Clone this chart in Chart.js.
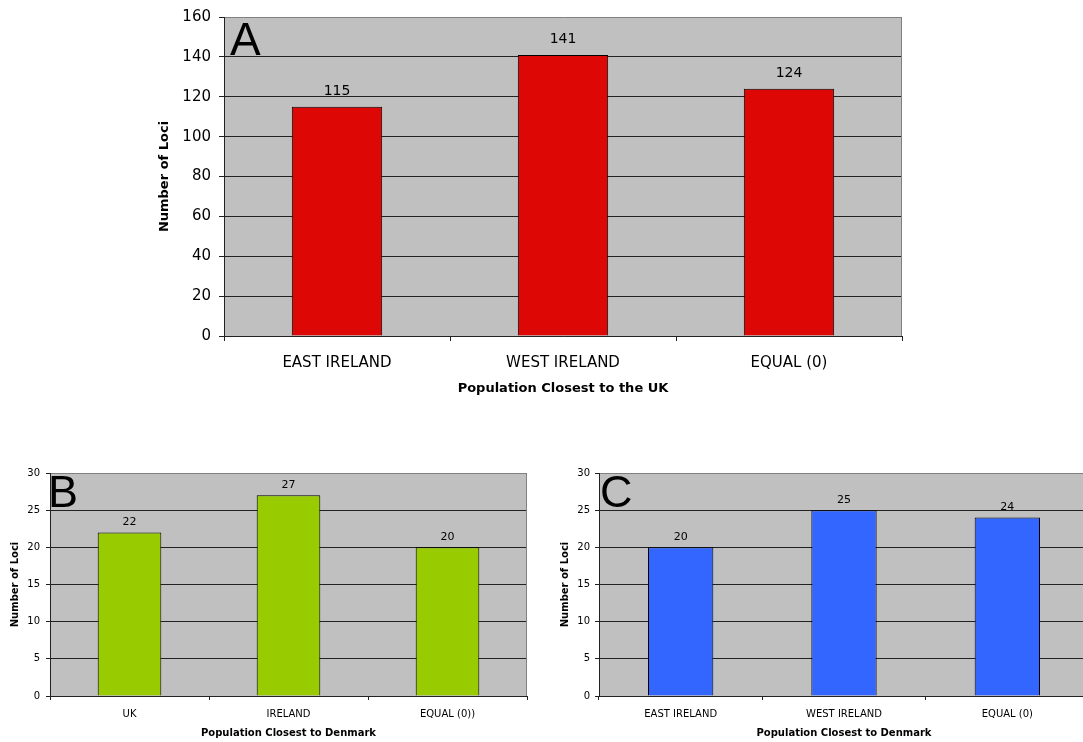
<!DOCTYPE html>
<html>
<head>
<meta charset="utf-8">
<script src="https://cdn.jsdelivr.net/npm/chart.js@4.4.1/dist/chart.umd.min.js"></script>
<style>
  html, body { margin: 0; padding: 0; background: #fff; overflow: hidden; width: 1083px; height: 742px; }
  canvas { position: absolute; }
</style>
</head>
<body>
<canvas id="chartA" width="1083" height="400" style="left:0px;top:0px"></canvas>
<canvas id="chartB" width="560" height="312" style="left:0px;top:430px"></canvas>
<canvas id="chartC" width="550" height="312" style="left:550px;top:430px"></canvas>
<script>
// Panel A: loci closest to the UK
const ukCategories = ['EAST IRELAND', 'WEST IRELAND', 'EQUAL (0)'];
const ukLoci = [115, 141, 124];
const ukTicks = [0, 20, 40, 60, 80, 100, 120, 140, 160];

// Panel B: loci closest to Denmark (UK vs Ireland)
const dkCategoriesB = ['UK', 'IRELAND', 'EQUAL (0))'];
const dkLociB = [22, 27, 20];

// Panel C: loci closest to Denmark (East vs West Ireland)
const dkCategoriesC = ['EAST IRELAND', 'WEST IRELAND', 'EQUAL (0)'];
const dkLociC = [20, 25, 24];
const dkTicks = [0, 5, 10, 15, 20, 25, 30];

Chart.defaults.font.family = "'DejaVu Sans', Verdana, sans-serif";
Chart.defaults.color = '#000';

// Grey plot background, grey right frame, value labels and panel letter
const panelPlugin = {
  id: 'panel',
  beforeDraw(chart) {
    const { ctx, chartArea: a } = chart;
    ctx.save();
    ctx.fillStyle = '#c0c0c0';
    ctx.fillRect(a.left, a.top, a.right - a.left, a.bottom - a.top);
    ctx.restore();
  },
  afterDatasetsDraw(chart, args, opts) {
    const { ctx, chartArea: a } = chart;
    ctx.save();
    ctx.strokeStyle = '#808080';
    ctx.lineWidth = 1;
    ctx.beginPath();
    ctx.moveTo(Math.round(a.right) - 0.5, a.top);
    ctx.lineTo(Math.round(a.right) - 0.5, a.bottom);
    ctx.stroke();

    const meta = chart.getDatasetMeta(0);
    const values = chart.data.datasets[0].data;
    ctx.fillStyle = '#000';
    ctx.font = opts.labelSize + "px 'DejaVu Sans', Verdana, sans-serif";
    ctx.textAlign = 'center';
    ctx.textBaseline = 'middle';
    meta.data.forEach((bar, i) => {
      ctx.fillText(String(values[i]), bar.x, bar.y - opts.labelGap);
    });

    ctx.font = opts.letterSize + "px 'Liberation Sans', Arial, sans-serif";
    ctx.textAlign = 'left';
    ctx.textBaseline = 'alphabetic';
    ctx.fillText(opts.letter, a.left + opts.letterDx, a.top + opts.letterDy);
    ctx.restore();
  }
};

function buildChart(id, o) {
  return new Chart(document.getElementById(id), {
    type: 'bar',
    data: {
      labels: o.labels,
      datasets: [{
        data: o.values,
        backgroundColor: o.color,
        borderColor: '#000',
        borderWidth: 1,
        barPercentage: 0.4,
        categoryPercentage: 1
      }]
    },
    options: {
      responsive: false,
      animation: false,
      devicePixelRatio: 1,
      layout: { padding: o.padding },
      plugins: {
        legend: { display: false },
        tooltip: { enabled: false },
        panel: {
          letter: o.letter, letterSize: o.letterSize, letterDx: o.letterDx, letterDy: o.letterDy,
          labelSize: o.labelSize, labelGap: o.labelGap
        }
      },
      scales: {
        x: {
          offset: true,
          grid: { display: true, drawOnChartArea: false, offset: true, tickLength: o.tick, color: '#222' },
          border: { color: '#222' },
          ticks: { font: { size: o.tickSize }, color: '#000', padding: o.xPad, maxRotation: 0, autoSkip: false },
          title: { display: true, text: o.xTitle, color: '#000', padding: 0,
                   font: { size: o.titleSize, weight: 'bold' } },
          afterFit: s => { s.height = o.xHeight; }
        },
        y: {
          min: 0,
          max: o.yTicks[o.yTicks.length - 1],
          afterBuildTicks: s => { s.ticks = o.yTicks.map(v => ({ value: v })); },
          grid: {
            color: c => (c.tick && c.tick.value === o.yTicks[o.yTicks.length - 1]) ? '#808080' : '#222',
            tickColor: '#222',
            tickLength: o.tick
          },
          border: { color: '#222' },
          ticks: { font: { size: o.tickSize }, color: '#000', padding: o.yPad },
          title: { display: true, text: 'Number of Loci', color: '#000', padding: 0,
                   font: { size: o.titleSize, weight: 'bold' } },
          afterFit: s => { s.width = o.yWidth; }
        }
      }
    },
    plugins: [panelPlugin]
  });
}

buildChart('chartA', {
  labels: ukCategories, values: ukLoci, yTicks: ukTicks, color: '#dd0806',
  xTitle: 'Population Closest to the UK',
  padding: { left: 157, right: 181, top: 14, bottom: 4 },
  yWidth: 67, xHeight: 60, tick: 5, xPad: 13, yPad: 8,
  tickSize: 15, titleSize: 13, labelSize: 14, labelGap: 15.5,
  letter: 'A', letterSize: 46, letterDx: 6, letterDy: 38
});

buildChart('chartB', {
  labels: dkCategoriesB, values: dkLociB, yTicks: dkTicks, color: '#99cc00',
  xTitle: 'Population Closest to Denmark',
  padding: { left: 9, right: 33, top: 43, bottom: 3 },
  yWidth: 41, xHeight: 43, tick: 4, xPad: 8, yPad: 6,
  tickSize: 10, titleSize: 10, labelSize: 11, labelGap: 10.5,
  letter: 'B', letterSize: 45, letterDx: -2, letterDy: 34
});

buildChart('chartC', {
  labels: dkCategoriesC, values: dkLociC, yTicks: dkTicks, color: '#3366ff',
  xTitle: 'Population Closest to Denmark',
  padding: { left: 9, right: 11, top: 43, bottom: 3 },
  yWidth: 40, xHeight: 43, tick: 4, xPad: 8, yPad: 5,
  tickSize: 10, titleSize: 10, labelSize: 11, labelGap: 10.5,
  letter: 'C', letterSize: 45, letterDx: 1, letterDy: 34
});
</script>
</body>
</html>
